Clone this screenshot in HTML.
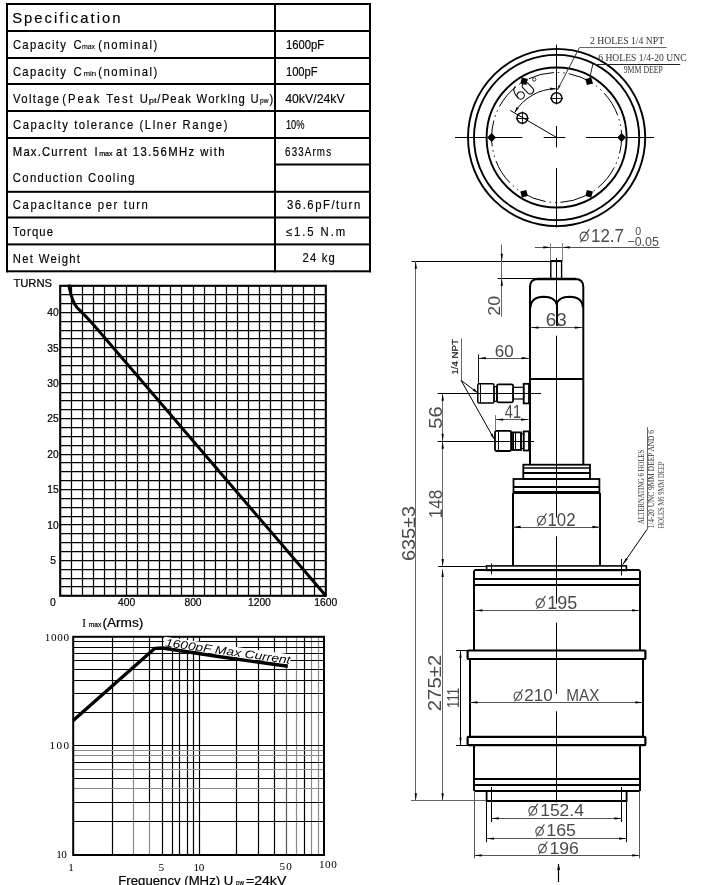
<!DOCTYPE html>
<html><head><meta charset="utf-8"><style>
html,body{margin:0;padding:0;background:#fff;}
svg{display:block;filter:grayscale(1);}
</style></head><body>
<svg width="714" height="885" viewBox="0 0 714 885">
<rect width="714" height="885" fill="#fff"/>
<rect x="6.00" y="3.00" width="365.00" height="2.00" fill="#000"/>
<rect x="6.00" y="30.00" width="365.00" height="2.00" fill="#000"/>
<rect x="6.00" y="57.00" width="365.00" height="2.00" fill="#000"/>
<rect x="6.00" y="83.00" width="365.00" height="2.00" fill="#000"/>
<rect x="6.00" y="110.00" width="365.00" height="2.00" fill="#000"/>
<rect x="6.00" y="137.00" width="365.00" height="2.00" fill="#000"/>
<rect x="274.00" y="163.50" width="97.00" height="2.00" fill="#000"/>
<rect x="6.00" y="190.80" width="365.00" height="2.00" fill="#000"/>
<rect x="6.00" y="216.50" width="365.00" height="2.00" fill="#000"/>
<rect x="6.00" y="243.40" width="365.00" height="2.00" fill="#000"/>
<rect x="6.00" y="270.30" width="365.00" height="2.00" fill="#000"/>
<rect x="6.00" y="3.00" width="2.00" height="269.30" fill="#000"/>
<rect x="274.00" y="3.00" width="2.00" height="269.30" fill="#000"/>
<rect x="369.00" y="3.00" width="2.00" height="269.30" fill="#000"/>
<text transform="translate(12.20,23.20) scale(1.0,1)" x="0" y="0" font-size="14.8" font-family="Liberation Sans, sans-serif" fill="#000" textLength="108.30" lengthAdjust="spacing" stroke="#000" stroke-width="0.15">Specification</text>
<text transform="translate(12.90,48.90) scale(0.95,1)" x="0" y="0" font-size="11.9" font-family="Liberation Sans, sans-serif" fill="#000" textLength="55.68" lengthAdjust="spacing" stroke="#000" stroke-width="0.15">Capacity</text>
<text transform="translate(73.60,48.90) scale(0.95,1)" x="0" y="0" font-size="11.9" font-family="Liberation Sans, sans-serif" fill="#000" textLength="7.58" lengthAdjust="spacing" stroke="#000" stroke-width="0.15">C</text>
<text x="81.90" y="48.90" font-size="7" font-family="Liberation Sans, sans-serif" text-anchor="start" fill="#000" textLength="13.20" lengthAdjust="spacingAndGlyphs" stroke="#000" stroke-width="0.1" >max</text>
<text transform="translate(98.30,48.90) scale(0.95,1)" x="0" y="0" font-size="11.9" font-family="Liberation Sans, sans-serif" fill="#000" textLength="62.11" lengthAdjust="spacing" stroke="#000" stroke-width="0.15">(nominal)</text>
<text transform="translate(12.90,75.80) scale(0.95,1)" x="0" y="0" font-size="11.9" font-family="Liberation Sans, sans-serif" fill="#000" textLength="55.68" lengthAdjust="spacing" stroke="#000" stroke-width="0.15">Capacity</text>
<text transform="translate(73.60,75.80) scale(0.95,1)" x="0" y="0" font-size="11.9" font-family="Liberation Sans, sans-serif" fill="#000" textLength="7.58" lengthAdjust="spacing" stroke="#000" stroke-width="0.15">C</text>
<text x="83.40" y="75.80" font-size="7" font-family="Liberation Sans, sans-serif" text-anchor="start" fill="#000" textLength="12.80" lengthAdjust="spacingAndGlyphs" stroke="#000" stroke-width="0.1" >min</text>
<text transform="translate(98.30,75.80) scale(0.95,1)" x="0" y="0" font-size="11.9" font-family="Liberation Sans, sans-serif" fill="#000" textLength="62.11" lengthAdjust="spacing" stroke="#000" stroke-width="0.15">(nominal)</text>
<text transform="translate(12.90,102.60) scale(0.95,1)" x="0" y="0" font-size="11.9" font-family="Liberation Sans, sans-serif" fill="#000" textLength="48.53" lengthAdjust="spacing" stroke="#000" stroke-width="0.15">Voltage</text>
<text transform="translate(62.30,102.60) scale(0.95,1)" x="0" y="0" font-size="11.9" font-family="Liberation Sans, sans-serif" fill="#000" textLength="90.00" lengthAdjust="spacing" stroke="#000" stroke-width="0.15">(Peak Test U</text>
<text x="148.80" y="102.60" font-size="7" font-family="Liberation Sans, sans-serif" text-anchor="start" fill="#000" textLength="7.90" lengthAdjust="spacingAndGlyphs" stroke="#000" stroke-width="0.15" >pt</text>
<text transform="translate(157.30,102.60) scale(0.95,1)" x="0" y="0" font-size="11.9" font-family="Liberation Sans, sans-serif" fill="#000" textLength="106.63" lengthAdjust="spacing" stroke="#000" stroke-width="0.15">/Peak Worklng U</text>
<text x="260.00" y="102.60" font-size="7" font-family="Liberation Sans, sans-serif" text-anchor="start" fill="#000" textLength="8.40" lengthAdjust="spacingAndGlyphs" stroke="#000" stroke-width="0.15" >pw</text>
<text transform="translate(269.40,102.60) scale(0.95,1)" x="0" y="0" font-size="11.9" font-family="Liberation Sans, sans-serif" fill="#000" textLength="3.79" lengthAdjust="spacing" stroke="#000" stroke-width="0.15">)</text>
<text transform="translate(12.90,129.30) scale(0.95,1)" x="0" y="0" font-size="11.9" font-family="Liberation Sans, sans-serif" fill="#000" textLength="225.89" lengthAdjust="spacing" stroke="#000" stroke-width="0.15">Capaclty tolerance (Llner Range)</text>
<text transform="translate(12.80,155.80) scale(0.95,1)" x="0" y="0" font-size="11.9" font-family="Liberation Sans, sans-serif" fill="#000" textLength="77.79" lengthAdjust="spacing" stroke="#000" stroke-width="0.2">Max.Current</text>
<text transform="translate(94.60,155.80) scale(0.95,1)" x="0" y="0" font-size="11.9" font-family="Liberation Sans, sans-serif" fill="#000" stroke="#000" stroke-width="0.2">I</text>
<text x="99.20" y="155.80" font-size="7" font-family="Liberation Sans, sans-serif" text-anchor="start" fill="#000" textLength="13.40" lengthAdjust="spacingAndGlyphs" stroke="#000" stroke-width="0.2" >max</text>
<text transform="translate(116.00,155.80) scale(0.95,1)" x="0" y="0" font-size="11.9" font-family="Liberation Sans, sans-serif" fill="#000" textLength="114.21" lengthAdjust="spacing" stroke="#000" stroke-width="0.2">at 13.56MHz with</text>
<text transform="translate(12.80,182.00) scale(0.95,1)" x="0" y="0" font-size="11.9" font-family="Liberation Sans, sans-serif" fill="#000" textLength="128.11" lengthAdjust="spacing" stroke="#000" stroke-width="0.15">Conduction Cooling</text>
<text transform="translate(12.80,209.00) scale(0.95,1)" x="0" y="0" font-size="11.9" font-family="Liberation Sans, sans-serif" fill="#000" textLength="142.21" lengthAdjust="spacing" stroke="#000" stroke-width="0.15">Capacltance per turn</text>
<text transform="translate(12.80,235.80) scale(0.95,1)" x="0" y="0" font-size="11.9" font-family="Liberation Sans, sans-serif" fill="#000" textLength="42.42" lengthAdjust="spacing" stroke="#000" stroke-width="0.15">Torque</text>
<text transform="translate(12.80,262.70) scale(0.95,1)" x="0" y="0" font-size="11.9" font-family="Liberation Sans, sans-serif" fill="#000" textLength="70.74" lengthAdjust="spacing" stroke="#000" stroke-width="0.15">Net Weight</text>
<text x="285.90" y="48.90" font-size="11.9" font-family="Liberation Sans, sans-serif" text-anchor="start" fill="#000" textLength="38.20" lengthAdjust="spacingAndGlyphs" stroke="#000" stroke-width="0.15" >1600pF</text>
<text x="285.90" y="75.90" font-size="11.9" font-family="Liberation Sans, sans-serif" text-anchor="start" fill="#000" textLength="31.80" lengthAdjust="spacingAndGlyphs" stroke="#000" stroke-width="0.15" >100pF</text>
<text x="285.20" y="102.80" font-size="11.9" font-family="Liberation Sans, sans-serif" text-anchor="start" fill="#000" textLength="59.50" lengthAdjust="spacingAndGlyphs" stroke="#000" stroke-width="0.15" >40kV/24kV</text>
<text x="285.90" y="129.40" font-size="11.9" font-family="Liberation Sans, sans-serif" text-anchor="start" fill="#000" textLength="18.60" lengthAdjust="spacingAndGlyphs" stroke="#000" stroke-width="0.15" >10%</text>
<text transform="translate(285.10,155.90) scale(0.82,1)" x="0" y="0" font-size="11.9" font-family="Liberation Sans, sans-serif" fill="#000" textLength="55.98" lengthAdjust="spacing" stroke="#000" stroke-width="0.15">633Arms</text>
<text transform="translate(287.00,209.40) scale(0.95,1)" x="0" y="0" font-size="11.9" font-family="Liberation Sans, sans-serif" fill="#000" textLength="77.05" lengthAdjust="spacing" stroke="#000" stroke-width="0.15">36.6pF/turn</text>
<text transform="translate(285.90,236.30) scale(0.95,1)" x="0" y="0" font-size="11.9" font-family="Liberation Sans, sans-serif" fill="#000" textLength="62.42" lengthAdjust="spacing" stroke="#000" stroke-width="0.15">&#8804;1.5 N.m</text>
<text transform="translate(302.50,262.40) scale(0.95,1)" x="0" y="0" font-size="11.9" font-family="Liberation Sans, sans-serif" fill="#000" textLength="34.11" lengthAdjust="spacing" stroke="#000" stroke-width="0.15">24 kg</text>
<line x1="71.50" y1="285.80" x2="71.50" y2="595.80" stroke="#000" stroke-width="1.25" />
<line x1="82.50" y1="285.80" x2="82.50" y2="595.80" stroke="#000" stroke-width="1.25" />
<line x1="93.50" y1="285.80" x2="93.50" y2="595.80" stroke="#000" stroke-width="1.25" />
<line x1="104.50" y1="285.80" x2="104.50" y2="595.80" stroke="#000" stroke-width="1.25" />
<line x1="115.50" y1="285.80" x2="115.50" y2="595.80" stroke="#000" stroke-width="1.25" />
<line x1="126.50" y1="285.80" x2="126.50" y2="595.80" stroke="#000" stroke-width="1.25" />
<line x1="137.50" y1="285.80" x2="137.50" y2="595.80" stroke="#000" stroke-width="1.25" />
<line x1="148.50" y1="285.80" x2="148.50" y2="595.80" stroke="#000" stroke-width="1.25" />
<line x1="159.50" y1="285.80" x2="159.50" y2="595.80" stroke="#000" stroke-width="1.25" />
<line x1="170.50" y1="285.80" x2="170.50" y2="595.80" stroke="#000" stroke-width="1.25" />
<line x1="181.50" y1="285.80" x2="181.50" y2="595.80" stroke="#000" stroke-width="1.25" />
<line x1="193.50" y1="285.80" x2="193.50" y2="595.80" stroke="#000" stroke-width="1.25" />
<line x1="204.50" y1="285.80" x2="204.50" y2="595.80" stroke="#000" stroke-width="1.25" />
<line x1="215.50" y1="285.80" x2="215.50" y2="595.80" stroke="#000" stroke-width="1.25" />
<line x1="226.50" y1="285.80" x2="226.50" y2="595.80" stroke="#000" stroke-width="1.25" />
<line x1="237.50" y1="285.80" x2="237.50" y2="595.80" stroke="#000" stroke-width="1.25" />
<line x1="248.50" y1="285.80" x2="248.50" y2="595.80" stroke="#000" stroke-width="1.25" />
<line x1="259.50" y1="285.80" x2="259.50" y2="595.80" stroke="#000" stroke-width="1.25" />
<line x1="270.50" y1="285.80" x2="270.50" y2="595.80" stroke="#000" stroke-width="1.25" />
<line x1="281.50" y1="285.80" x2="281.50" y2="595.80" stroke="#000" stroke-width="1.25" />
<line x1="292.50" y1="285.80" x2="292.50" y2="595.80" stroke="#000" stroke-width="1.25" />
<line x1="303.50" y1="285.80" x2="303.50" y2="595.80" stroke="#000" stroke-width="1.25" />
<line x1="314.50" y1="285.80" x2="314.50" y2="595.80" stroke="#000" stroke-width="1.25" />
<line x1="60.20" y1="294.50" x2="325.81" y2="294.50" stroke="#000" stroke-width="1.25" />
<line x1="60.20" y1="303.50" x2="325.81" y2="303.50" stroke="#000" stroke-width="1.25" />
<line x1="60.20" y1="312.50" x2="325.81" y2="312.50" stroke="#000" stroke-width="1.25" />
<line x1="60.20" y1="321.50" x2="325.81" y2="321.50" stroke="#000" stroke-width="1.25" />
<line x1="60.20" y1="330.50" x2="325.81" y2="330.50" stroke="#000" stroke-width="1.25" />
<line x1="60.20" y1="338.50" x2="325.81" y2="338.50" stroke="#000" stroke-width="1.25" />
<line x1="60.20" y1="347.50" x2="325.81" y2="347.50" stroke="#000" stroke-width="1.25" />
<line x1="60.20" y1="356.50" x2="325.81" y2="356.50" stroke="#000" stroke-width="1.25" />
<line x1="60.20" y1="365.50" x2="325.81" y2="365.50" stroke="#000" stroke-width="1.25" />
<line x1="60.20" y1="374.50" x2="325.81" y2="374.50" stroke="#000" stroke-width="1.25" />
<line x1="60.20" y1="383.50" x2="325.81" y2="383.50" stroke="#000" stroke-width="1.25" />
<line x1="60.20" y1="392.50" x2="325.81" y2="392.50" stroke="#000" stroke-width="1.25" />
<line x1="60.20" y1="400.50" x2="325.81" y2="400.50" stroke="#000" stroke-width="1.25" />
<line x1="60.20" y1="409.50" x2="325.81" y2="409.50" stroke="#000" stroke-width="1.25" />
<line x1="60.20" y1="418.50" x2="325.81" y2="418.50" stroke="#000" stroke-width="1.25" />
<line x1="60.20" y1="427.50" x2="325.81" y2="427.50" stroke="#000" stroke-width="1.25" />
<line x1="60.20" y1="436.50" x2="325.81" y2="436.50" stroke="#000" stroke-width="1.25" />
<line x1="60.20" y1="445.50" x2="325.81" y2="445.50" stroke="#000" stroke-width="1.25" />
<line x1="60.20" y1="454.50" x2="325.81" y2="454.50" stroke="#000" stroke-width="1.25" />
<line x1="60.20" y1="462.50" x2="325.81" y2="462.50" stroke="#000" stroke-width="1.25" />
<line x1="60.20" y1="471.50" x2="325.81" y2="471.50" stroke="#000" stroke-width="1.25" />
<line x1="60.20" y1="480.50" x2="325.81" y2="480.50" stroke="#000" stroke-width="1.25" />
<line x1="60.20" y1="489.50" x2="325.81" y2="489.50" stroke="#000" stroke-width="1.25" />
<line x1="60.20" y1="498.50" x2="325.81" y2="498.50" stroke="#000" stroke-width="1.25" />
<line x1="60.20" y1="507.50" x2="325.81" y2="507.50" stroke="#000" stroke-width="1.25" />
<line x1="60.20" y1="516.50" x2="325.81" y2="516.50" stroke="#000" stroke-width="1.25" />
<line x1="60.20" y1="524.50" x2="325.81" y2="524.50" stroke="#000" stroke-width="1.25" />
<line x1="60.20" y1="533.50" x2="325.81" y2="533.50" stroke="#000" stroke-width="1.25" />
<line x1="60.20" y1="542.50" x2="325.81" y2="542.50" stroke="#000" stroke-width="1.25" />
<line x1="60.20" y1="551.50" x2="325.81" y2="551.50" stroke="#000" stroke-width="1.25" />
<line x1="60.20" y1="560.50" x2="325.81" y2="560.50" stroke="#000" stroke-width="1.25" />
<line x1="60.20" y1="569.50" x2="325.81" y2="569.50" stroke="#000" stroke-width="1.25" />
<line x1="60.20" y1="578.50" x2="325.81" y2="578.50" stroke="#000" stroke-width="1.25" />
<line x1="60.20" y1="586.50" x2="325.81" y2="586.50" stroke="#000" stroke-width="1.25" />
<rect x="60.20" y="285.80" width="265.61" height="310.00" rx="0" fill="none" stroke="#000" stroke-width="2.1"/>
<path d="M68.7,284.6 C70.5,293 71.5,301 77,307.5 C80,310.5 84,314 94.2,325.5 L325.81,595.80" stroke="#000" stroke-width="3.0" fill="none" />
<text x="13.40" y="286.60" font-size="10.7" font-family="Liberation Sans, sans-serif" text-anchor="start" fill="#000" textLength="38.70" lengthAdjust="spacingAndGlyphs" stroke="#000" stroke-width="0.2" >TURNS</text>
<text x="53.00" y="564.07" font-size="10.3" font-family="Liberation Sans, sans-serif" text-anchor="middle" fill="#000" stroke="#000" stroke-width="0.2" >5</text>
<text x="53.00" y="528.64" font-size="10.3" font-family="Liberation Sans, sans-serif" text-anchor="middle" fill="#000" stroke="#000" stroke-width="0.2" >10</text>
<text x="53.00" y="493.21" font-size="10.3" font-family="Liberation Sans, sans-serif" text-anchor="middle" fill="#000" stroke="#000" stroke-width="0.2" >15</text>
<text x="53.00" y="457.78" font-size="10.3" font-family="Liberation Sans, sans-serif" text-anchor="middle" fill="#000" stroke="#000" stroke-width="0.2" >20</text>
<text x="53.00" y="422.36" font-size="10.3" font-family="Liberation Sans, sans-serif" text-anchor="middle" fill="#000" stroke="#000" stroke-width="0.2" >25</text>
<text x="53.00" y="386.93" font-size="10.3" font-family="Liberation Sans, sans-serif" text-anchor="middle" fill="#000" stroke="#000" stroke-width="0.2" >30</text>
<text x="53.00" y="351.50" font-size="10.3" font-family="Liberation Sans, sans-serif" text-anchor="middle" fill="#000" stroke="#000" stroke-width="0.2" >35</text>
<text x="53.00" y="316.07" font-size="10.3" font-family="Liberation Sans, sans-serif" text-anchor="middle" fill="#000" stroke="#000" stroke-width="0.2" >40</text>
<text x="52.90" y="605.50" font-size="10.3" font-family="Liberation Sans, sans-serif" text-anchor="middle" fill="#000" stroke="#000" stroke-width="0.2" >0</text>
<text x="126.60" y="606.00" font-size="10.3" font-family="Liberation Sans, sans-serif" text-anchor="middle" fill="#000" stroke="#000" stroke-width="0.2" >400</text>
<text x="193.00" y="606.00" font-size="10.3" font-family="Liberation Sans, sans-serif" text-anchor="middle" fill="#000" stroke="#000" stroke-width="0.2" >800</text>
<text x="259.41" y="606.00" font-size="10.3" font-family="Liberation Sans, sans-serif" text-anchor="middle" fill="#000" stroke="#000" stroke-width="0.2" >1200</text>
<text x="325.81" y="606.00" font-size="10.3" font-family="Liberation Sans, sans-serif" text-anchor="middle" fill="#000" stroke="#000" stroke-width="0.2" >1600</text>
<line x1="112.50" y1="636.80" x2="112.50" y2="855.00" stroke="#000" stroke-width="1.2" />
<line x1="133.50" y1="636.80" x2="133.50" y2="855.00" stroke="#8a8a8a" stroke-width="1.2" />
<line x1="149.50" y1="636.80" x2="149.50" y2="802.18" stroke="#000" stroke-width="1.2" />
<line x1="149.50" y1="802.18" x2="149.50" y2="855.00" stroke="#8a8a8a" stroke-width="1.2" />
<line x1="162.50" y1="636.80" x2="162.50" y2="855.00" stroke="#000" stroke-width="1.2" />
<line x1="172.50" y1="636.80" x2="172.50" y2="855.00" stroke="#000" stroke-width="1.2" />
<line x1="179.50" y1="636.80" x2="179.50" y2="855.00" stroke="#000" stroke-width="1.2" />
<line x1="187.50" y1="636.80" x2="187.50" y2="855.00" stroke="#000" stroke-width="1.2" />
<line x1="193.50" y1="636.80" x2="193.50" y2="855.00" stroke="#000" stroke-width="1.2" />
<line x1="199.50" y1="636.80" x2="199.50" y2="855.00" stroke="#000" stroke-width="1.2" />
<line x1="236.50" y1="636.80" x2="236.50" y2="855.00" stroke="#000" stroke-width="1.2" />
<line x1="258.50" y1="636.80" x2="258.50" y2="855.00" stroke="#000" stroke-width="1.2" />
<line x1="274.50" y1="636.80" x2="274.50" y2="855.00" stroke="#000" stroke-width="1.2" />
<line x1="286.50" y1="636.80" x2="286.50" y2="855.00" stroke="#555" stroke-width="1.2" />
<line x1="296.50" y1="636.80" x2="296.50" y2="855.00" stroke="#8a8a8a" stroke-width="1.2" />
<line x1="304.50" y1="636.80" x2="304.50" y2="855.00" stroke="#000" stroke-width="1.2" />
<line x1="311.50" y1="636.80" x2="311.50" y2="855.00" stroke="#8a8a8a" stroke-width="1.2" />
<line x1="318.50" y1="636.80" x2="318.50" y2="855.00" stroke="#8a8a8a" stroke-width="1.2" />
<line x1="73.20" y1="821.50" x2="324.00" y2="821.50" stroke="#000" stroke-width="1.2" />
<line x1="73.20" y1="802.50" x2="324.00" y2="802.50" stroke="#000" stroke-width="1.2" />
<line x1="73.20" y1="788.50" x2="324.00" y2="788.50" stroke="#8a8a8a" stroke-width="1.2" />
<line x1="73.20" y1="778.50" x2="324.00" y2="778.50" stroke="#000" stroke-width="1.2" />
<line x1="73.20" y1="769.50" x2="324.00" y2="769.50" stroke="#8a8a8a" stroke-width="1.2" />
<line x1="73.20" y1="762.50" x2="324.00" y2="762.50" stroke="#000" stroke-width="1.2" />
<line x1="73.20" y1="755.50" x2="324.00" y2="755.50" stroke="#8a8a8a" stroke-width="1.2" />
<line x1="73.20" y1="750.50" x2="324.00" y2="750.50" stroke="#8a8a8a" stroke-width="1.2" />
<line x1="73.20" y1="745.50" x2="324.00" y2="745.50" stroke="#000" stroke-width="1.2" />
<line x1="73.20" y1="712.50" x2="324.00" y2="712.50" stroke="#000" stroke-width="1.2" />
<line x1="73.20" y1="693.50" x2="324.00" y2="693.50" stroke="#000" stroke-width="1.2" />
<line x1="73.20" y1="680.50" x2="324.00" y2="680.50" stroke="#000" stroke-width="1.2" />
<line x1="73.20" y1="669.50" x2="324.00" y2="669.50" stroke="#000" stroke-width="1.2" />
<line x1="73.20" y1="660.50" x2="324.00" y2="660.50" stroke="#000" stroke-width="1.2" />
<line x1="73.20" y1="653.50" x2="324.00" y2="653.50" stroke="#000" stroke-width="1.2" />
<line x1="73.20" y1="647.50" x2="324.00" y2="647.50" stroke="#000" stroke-width="1.2" />
<line x1="73.20" y1="641.50" x2="324.00" y2="641.50" stroke="#000" stroke-width="1.2" />
<rect x="73.20" y="636.80" width="250.80" height="218.20" rx="0" fill="none" stroke="#000" stroke-width="2.0"/>
<g transform="translate(163,647.2) rotate(8)">
<rect x="0" y="-10.5" width="128" height="10" fill="#fff"/>
<text x="1.5" y="-1.2" font-size="11.2" font-family="Liberation Sans, sans-serif" font-style="italic" textLength="126.5" lengthAdjust="spacingAndGlyphs">1600pF Max Current</text>
</g>
<path d="M73.2,720.4 L154.6,648.4 L162.4,648 L220,656.8 L287.8,666.3" stroke="#000" stroke-width="3.4" fill="none" stroke-linejoin="round"/>
<text x="82" y="626.8" font-size="12.5" font-family="Liberation Serif, serif">I</text>
<text x="88.80" y="626.50" font-size="7.5" font-family="Liberation Sans, sans-serif" text-anchor="start" fill="#000" textLength="12.60" lengthAdjust="spacingAndGlyphs" stroke="#000" stroke-width="0.2" >max</text>
<text x="102.40" y="626.80" font-size="12" font-family="Liberation Sans, sans-serif" text-anchor="start" fill="#000" textLength="41.00" lengthAdjust="spacingAndGlyphs" stroke="#000" stroke-width="0.2" >(Arms)</text>
<text x="44.70" y="640.70" font-size="11.2" font-family="Liberation Serif, serif" text-anchor="start" fill="#000" textLength="24.50" lengthAdjust="spacing" >1000</text>
<text x="49.50" y="749.30" font-size="11.2" font-family="Liberation Serif, serif" text-anchor="start" fill="#000" textLength="19.70" lengthAdjust="spacing" >100</text>
<text x="56.30" y="857.90" font-size="11.2" font-family="Liberation Serif, serif" text-anchor="start" fill="#000" textLength="10.50" lengthAdjust="spacing" >10</text>
<text x="68.20" y="871.30" font-size="11.2" font-family="Liberation Serif, serif" text-anchor="start" fill="#000" textLength="3.50" lengthAdjust="spacing" >1</text>
<text x="158.50" y="871.30" font-size="11.2" font-family="Liberation Serif, serif" text-anchor="start" fill="#000" textLength="4.20" lengthAdjust="spacing" >5</text>
<text x="193.60" y="870.50" font-size="11.2" font-family="Liberation Serif, serif" text-anchor="start" fill="#000" textLength="10.70" lengthAdjust="spacing" >10</text>
<text x="279.40" y="869.50" font-size="11.2" font-family="Liberation Serif, serif" text-anchor="start" fill="#000" textLength="12.40" lengthAdjust="spacing" >50</text>
<text x="318.90" y="867.80" font-size="11.2" font-family="Liberation Serif, serif" text-anchor="start" fill="#000" textLength="17.90" lengthAdjust="spacing" >100</text>
<text x="118.30" y="884.60" font-size="12.3" font-family="Liberation Sans, sans-serif" text-anchor="start" fill="#000" textLength="115.00" lengthAdjust="spacingAndGlyphs" stroke="#000" stroke-width="0.2" >Frequency (MHz) U</text>
<text x="236.00" y="884.60" font-size="7" font-family="Liberation Sans, sans-serif" text-anchor="start" fill="#000" textLength="8.00" lengthAdjust="spacingAndGlyphs" stroke="#000" stroke-width="0.2" >pw</text>
<text x="246.00" y="884.60" font-size="12.3" font-family="Liberation Sans, sans-serif" text-anchor="start" fill="#000" textLength="40.30" lengthAdjust="spacingAndGlyphs" stroke="#000" stroke-width="0.2" >=24kV</text>
<circle cx="556.6" cy="137.5" r="88.6" fill="none" stroke="#000" stroke-width="1.9" />
<circle cx="556.6" cy="137.5" r="82.6" fill="none" stroke="#000" stroke-width="1.9" />
<circle cx="556.6" cy="137.5" r="70.0" fill="none" stroke="#000" stroke-width="1.9" />
<circle cx="556.6" cy="137.5" r="65.0" fill="none" stroke="#000" stroke-width="1" stroke-dasharray="26 4 1.5 4 1.5 4" stroke-dashoffset="10"/>
<rect x="618.50" y="134.40" width="6.2" height="6.2" fill="#000" transform="rotate(45 621.60 137.50)"/>
<rect x="586.00" y="78.11" width="6.2" height="6.2" fill="#000" transform="rotate(-15 589.10 81.21)"/>
<rect x="521.00" y="78.11" width="6.2" height="6.2" fill="#000" transform="rotate(-75 524.10 81.21)"/>
<rect x="488.50" y="134.40" width="6.2" height="6.2" fill="#000" transform="rotate(-135 491.60 137.50)"/>
<rect x="521.00" y="190.69" width="6.2" height="6.2" fill="#000" transform="rotate(-195 524.10 193.79)"/>
<rect x="586.00" y="190.69" width="6.2" height="6.2" fill="#000" transform="rotate(-255 589.10 193.79)"/>
<line x1="455.00" y1="137.50" x2="522.40" y2="137.50" stroke="#000" stroke-width="1" />
<line x1="543.70" y1="137.50" x2="565.30" y2="137.50" stroke="#000" stroke-width="1" />
<line x1="586.00" y1="137.50" x2="654.00" y2="137.50" stroke="#000" stroke-width="1" />
<line x1="556.50" y1="44.70" x2="556.50" y2="104.00" stroke="#000" stroke-width="1" />
<line x1="556.50" y1="126.00" x2="556.50" y2="147.50" stroke="#000" stroke-width="1" />
<line x1="556.50" y1="168.00" x2="556.50" y2="227.50" stroke="#000" stroke-width="1" />
<circle cx="556.6" cy="98.0" r="5.3" fill="none" stroke="#000" stroke-width="1.5"/>
<line x1="550.10" y1="98.50" x2="563.10" y2="98.50" stroke="#000" stroke-width="0.9" />
<line x1="556.50" y1="91.50" x2="556.50" y2="104.50" stroke="#000" stroke-width="0.9" />
<circle cx="522.3" cy="118.0" r="5.3" fill="none" stroke="#000" stroke-width="1.5"/>
<line x1="515.80" y1="118.50" x2="528.80" y2="118.50" stroke="#000" stroke-width="0.9" />
<line x1="522.50" y1="111.50" x2="522.50" y2="124.50" stroke="#000" stroke-width="0.9" />
<line x1="556.60" y1="137.50" x2="510.20" y2="110.40" stroke="#000" stroke-width="1" />
<path d="M555.75,88.71 A48.8,48.8 0 0 0 514.77,112.37" stroke="#000" stroke-width="1" fill="none" />
<path d="M555.75,88.71 L550.28,90.12 L550.22,87.52 Z" fill="#000"/>
<path d="M514.77,112.37 L516.49,106.98 L518.72,108.32 Z" fill="#000"/>
<g transform="translate(527.95,88.2) rotate(-43.5)" fill="none" stroke="#111" stroke-width="1.1">
<rect x="-3.4" y="-6.6" width="6.8" height="13.2" rx="3.4"/>
<ellipse cx="-10.2" cy="0.3" rx="3.6" ry="3.7"/>
<path d="M-13.8,0.3 C-13.8,-6 -12,-9.8 -8,-10.2"/>
</g>
<circle cx="534.2" cy="79.5" r="1.7" fill="none" stroke="#222" stroke-width="0.9"/>
<line x1="557.40" y1="90.00" x2="579.30" y2="47.80" stroke="#333" stroke-width="1" />
<path d="M557.40,90.00 L558.63,85.01 L560.76,86.11 Z" fill="#222"/>
<line x1="579.30" y1="47.50" x2="666.50" y2="47.50" stroke="#666" stroke-width="1.1" />
<line x1="589.50" y1="79.00" x2="592.80" y2="64.20" stroke="#222" stroke-width="1" />
<line x1="592.80" y1="64.50" x2="680.20" y2="64.50" stroke="#222" stroke-width="1.1" />
<text x="590.00" y="43.60" font-size="10.3" font-family="Liberation Serif, serif" text-anchor="start" fill="#333" textLength="74.20" lengthAdjust="spacingAndGlyphs" >2 HOLES 1/4 NPT</text>
<text x="598.20" y="60.50" font-size="10.3" font-family="Liberation Serif, serif" text-anchor="start" fill="#333" textLength="88.40" lengthAdjust="spacingAndGlyphs" >6 HOLES 1/4-20 UNC</text>
<text x="623.70" y="73.30" font-size="10.3" font-family="Liberation Serif, serif" text-anchor="start" fill="#333" textLength="39.20" lengthAdjust="spacingAndGlyphs" >9MM DEEP</text>
<ellipse cx="584.16" cy="236.53" rx="4.03" ry="4.41" fill="none" stroke="#4a4a4a" stroke-width="1.15"/>
<line x1="580.50" y1="242.08" x2="589.32" y2="229.10" stroke="#4a4a4a" stroke-width="1.15"/>
<text x="591.00" y="241.70" font-size="17.75" font-family="Liberation Sans, sans-serif" fill="#4a4a4a" textLength="32.90" lengthAdjust="spacingAndGlyphs">12.7</text>
<text x="635.2" y="234.7" font-size="10.6" font-family="Liberation Sans, sans-serif" fill="#4a4a4a">0</text>
<text x="627.40" y="245.90" font-size="12.82" font-family="Liberation Sans, sans-serif" fill="#4a4a4a" textLength="31.40" lengthAdjust="spacingAndGlyphs">&#8722;0.05</text>
<line x1="534.80" y1="247.50" x2="659.60" y2="247.50" stroke="#555" stroke-width="1" />
<path d="M550.80,247.30 L543.30,248.45 L543.30,246.15 Z" fill="#000"/>
<path d="M562.30,247.30 L569.80,246.15 L569.80,248.45 Z" fill="#000"/>
<line x1="550.50" y1="243.00" x2="550.50" y2="261.00" stroke="#777" stroke-width="0.9" />
<line x1="562.50" y1="243.00" x2="562.50" y2="261.00" stroke="#777" stroke-width="0.9" />
<rect x="550.80" y="261.40" width="10.80" height="17.60" rx="0" fill="none" stroke="#000" stroke-width="1.4"/>
<line x1="550.30" y1="261.00" x2="562.10" y2="261.00" stroke="#000" stroke-width="2" />
<path d="M530,464.7 L530,287 Q530,279 538,279 L575.3,279 Q583.3,279 583.3,287 L583.3,464.7" stroke="#000" stroke-width="2" fill="none" />
<line x1="537.00" y1="279.00" x2="576.00" y2="279.00" stroke="#000" stroke-width="2.6" />
<path d="M530.5,307.5 Q531,297 543.7,296.8 Q555,297 556.6,304.5 Q558.2,297 569.5,296.8 Q582.5,297 582.8,307.5" stroke="#000" stroke-width="2" fill="none" />
<line x1="557.00" y1="304.00" x2="557.00" y2="326.00" stroke="#000" stroke-width="2" />
<line x1="530.00" y1="379.00" x2="583.30" y2="379.00" stroke="#000" stroke-width="2" />
<line x1="531.00" y1="327.50" x2="582.30" y2="327.50" stroke="#555" stroke-width="1" />
<path d="M531.00,327.60 L538.50,326.45 L538.50,328.75 Z" fill="#000"/>
<path d="M582.30,327.60 L574.80,328.75 L574.80,326.45 Z" fill="#000"/>
<text x="545.80" y="325.90" font-size="17.75" font-family="Liberation Sans, sans-serif" fill="#4a4a4a" textLength="21.00" lengthAdjust="spacingAndGlyphs">63</text>
<line x1="556.50" y1="258.00" x2="556.50" y2="314.50" stroke="#000" stroke-width="1" />
<line x1="556.50" y1="335.70" x2="556.50" y2="464.00" stroke="#000" stroke-width="1" />
<line x1="556.50" y1="464.00" x2="556.50" y2="517.60" stroke="#000" stroke-width="1" />
<line x1="556.50" y1="536.30" x2="556.50" y2="603.70" stroke="#000" stroke-width="1" />
<line x1="556.50" y1="622.70" x2="556.50" y2="693.90" stroke="#000" stroke-width="1" />
<line x1="556.50" y1="711.30" x2="556.50" y2="802.40" stroke="#000" stroke-width="1" />
<line x1="411.70" y1="261.50" x2="550.60" y2="261.50" stroke="#000" stroke-width="1" />
<line x1="497.60" y1="278.50" x2="537.00" y2="278.50" stroke="#000" stroke-width="1" />
<line x1="501.50" y1="244.50" x2="501.50" y2="316.80" stroke="#666" stroke-width="1" />
<path d="M501.80,261.30 L500.65,253.80 L502.95,253.80 Z" fill="#000"/>
<path d="M501.80,278.20 L502.95,285.70 L500.65,285.70 Z" fill="#000"/>
<text x="0" y="0" font-size="16.62" font-family="Liberation Sans, sans-serif" fill="#4a4a4a" transform="translate(499.60,315.70) rotate(-90)" textLength="19.70" lengthAdjust="spacingAndGlyphs">20</text>
<line x1="478.50" y1="354.40" x2="478.50" y2="383.80" stroke="#111" stroke-width="1" />
<line x1="478.30" y1="358.50" x2="529.20" y2="358.50" stroke="#555" stroke-width="1" />
<path d="M478.30,358.20 L485.80,357.05 L485.80,359.35 Z" fill="#000"/>
<path d="M529.20,358.20 L521.70,359.35 L521.70,357.05 Z" fill="#000"/>
<text x="494.70" y="356.70" font-size="17.18" font-family="Liberation Sans, sans-serif" fill="#4a4a4a" textLength="18.90" lengthAdjust="spacingAndGlyphs">60</text>
<rect x="477.80" y="383.80" width="16.20" height="19.10" rx="1.5" fill="none" stroke="#000" stroke-width="1.5"/>
<line x1="480.50" y1="384.00" x2="480.50" y2="402.70" stroke="#000" stroke-width="1" />
<rect x="494.00" y="386.60" width="3.00" height="14.70" rx="0" fill="none" stroke="#000" stroke-width="1.2"/>
<rect x="497.00" y="384.30" width="16.10" height="18.00" rx="1.5" fill="none" stroke="#000" stroke-width="1.8"/>
<rect x="513.10" y="387.30" width="10.60" height="11.70" rx="0" fill="none" stroke="#000" stroke-width="1.2"/>
<rect x="523.70" y="383.80" width="5.30" height="19.60" rx="0" fill="none" stroke="#000" stroke-width="1.8"/>
<line x1="438.40" y1="393.50" x2="541.00" y2="393.50" stroke="#000" stroke-width="1" />
<rect x="495.00" y="430.90" width="16.20" height="20.10" rx="1.5" fill="none" stroke="#000" stroke-width="1.8"/>
<line x1="498.50" y1="431.00" x2="498.50" y2="450.80" stroke="#000" stroke-width="1" />
<rect x="511.20" y="432.50" width="1.90" height="17.30" rx="0" fill="none" stroke="#000" stroke-width="1.2"/>
<rect x="513.10" y="432.40" width="7.90" height="17.60" rx="0" fill="none" stroke="#000" stroke-width="1.8"/>
<line x1="515.50" y1="432.50" x2="515.50" y2="450.00" stroke="#000" stroke-width="1" />
<rect x="521.00" y="433.80" width="2.70" height="14.70" rx="0" fill="none" stroke="#000" stroke-width="1.2"/>
<rect x="523.70" y="431.40" width="5.30" height="19.10" rx="0" fill="none" stroke="#000" stroke-width="1.8"/>
<line x1="438.40" y1="441.50" x2="534.20" y2="441.50" stroke="#000" stroke-width="1" />
<line x1="495.50" y1="415.20" x2="495.50" y2="430.90" stroke="#666" stroke-width="0.9" />
<line x1="495.70" y1="419.50" x2="528.60" y2="419.50" stroke="#555" stroke-width="1" />
<path d="M495.70,419.60 L503.20,418.45 L503.20,420.75 Z" fill="#000"/>
<path d="M528.60,419.60 L521.10,420.75 L521.10,418.45 Z" fill="#000"/>
<text x="504.80" y="418.10" font-size="17.89" font-family="Liberation Sans, sans-serif" fill="#4a4a4a" textLength="16.20" lengthAdjust="spacingAndGlyphs">41</text>
<line x1="461.50" y1="338.40" x2="461.50" y2="380.40" stroke="#666" stroke-width="1" />
<line x1="461.10" y1="380.40" x2="477.40" y2="392.60" stroke="#000" stroke-width="1" />
<path d="M477.40,392.60 L472.62,390.64 L474.18,388.56 Z" fill="#000"/>
<line x1="461.10" y1="380.40" x2="494.00" y2="438.70" stroke="#000" stroke-width="1" />
<path d="M494.00,438.70 L490.41,434.98 L492.67,433.71 Z" fill="#000"/>
<text x="0" y="0" font-size="9.8" font-family="Liberation Sans, sans-serif" fill="#222" stroke="#222" stroke-width="0.2" transform="translate(457.7,374.5) rotate(-90)" textLength="35.3" lengthAdjust="spacingAndGlyphs">1/4 NPT</text>
<line x1="442.50" y1="393.30" x2="442.50" y2="566.50" stroke="#666" stroke-width="1" />
<path d="M442.70,393.30 L443.85,400.80 L441.55,400.80 Z" fill="#000"/>
<path d="M442.70,441.30 L441.55,433.80 L443.85,433.80 Z" fill="#000"/>
<path d="M442.70,441.30 L443.85,448.80 L441.55,448.80 Z" fill="#000"/>
<path d="M442.70,566.50 L441.55,559.00 L443.85,559.00 Z" fill="#000"/>
<line x1="437.60" y1="441.50" x2="494.00" y2="441.50" stroke="#000" stroke-width="1" />
<line x1="437.60" y1="393.50" x2="478.00" y2="393.50" stroke="#000" stroke-width="1" />
<text x="0" y="0" font-size="18.31" font-family="Liberation Sans, sans-serif" fill="#4a4a4a" transform="translate(441.70,428.70) rotate(-90)" textLength="22.40" lengthAdjust="spacingAndGlyphs">56</text>
<text x="0" y="0" font-size="18.31" font-family="Liberation Sans, sans-serif" fill="#4a4a4a" transform="translate(441.70,518.20) rotate(-90)" textLength="28.50" lengthAdjust="spacingAndGlyphs">148</text>
<rect x="523.30" y="464.70" width="66.70" height="14.30" rx="0" fill="none" stroke="#000" stroke-width="1.8"/>
<line x1="524.00" y1="468.00" x2="589.50" y2="468.00" stroke="#000" stroke-width="1.5" />
<line x1="524.00" y1="473.00" x2="589.50" y2="473.00" stroke="#000" stroke-width="1.8" />
<rect x="513.50" y="479.00" width="85.90" height="14.10" rx="0" fill="none" stroke="#000" stroke-width="1.8"/>
<line x1="513.50" y1="487.00" x2="599.40" y2="487.00" stroke="#000" stroke-width="2" />
<line x1="513.50" y1="492.00" x2="599.40" y2="492.00" stroke="#000" stroke-width="2" />
<line x1="513.00" y1="493.00" x2="513.00" y2="565.70" stroke="#000" stroke-width="2" />
<line x1="600.00" y1="493.00" x2="600.00" y2="565.70" stroke="#000" stroke-width="2" />
<line x1="513.10" y1="527.50" x2="599.80" y2="527.50" stroke="#555" stroke-width="1" />
<path d="M513.10,527.00 L520.60,525.85 L520.60,528.15 Z" fill="#000"/>
<path d="M599.80,527.00 L592.30,528.15 L592.30,525.85 Z" fill="#000"/>
<ellipse cx="541.42" cy="520.58" rx="4.00" ry="4.38" fill="none" stroke="#4a4a4a" stroke-width="1.15"/>
<line x1="537.80" y1="526.08" x2="546.55" y2="513.20" stroke="#4a4a4a" stroke-width="1.15"/>
<text x="547.50" y="525.70" font-size="17.61" font-family="Liberation Sans, sans-serif" fill="#4a4a4a" textLength="28.00" lengthAdjust="spacingAndGlyphs">102</text>
<rect x="486.60" y="565.90" width="139.80" height="4.50" rx="0" fill="none" stroke="#000" stroke-width="1.6"/>
<line x1="491.50" y1="563.50" x2="491.50" y2="574.30" stroke="#000" stroke-width="1" />
<line x1="621.50" y1="559.00" x2="621.50" y2="575.50" stroke="#000" stroke-width="1" />
<line x1="474.00" y1="570.40" x2="474.00" y2="650.50" stroke="#000" stroke-width="2" />
<line x1="640.00" y1="570.40" x2="640.00" y2="650.50" stroke="#000" stroke-width="2" />
<line x1="474.30" y1="570.00" x2="639.70" y2="570.00" stroke="#000" stroke-width="2" />
<line x1="474.30" y1="579.00" x2="639.70" y2="579.00" stroke="#000" stroke-width="2" />
<line x1="474.30" y1="585.00" x2="639.70" y2="585.00" stroke="#000" stroke-width="2" />
<rect x="467.60" y="650.50" width="177.80" height="8.50" rx="0.8" fill="none" stroke="#000" stroke-width="2.2"/>
<line x1="470.00" y1="659.00" x2="470.00" y2="736.80" stroke="#000" stroke-width="2" />
<line x1="643.00" y1="659.00" x2="643.00" y2="736.80" stroke="#000" stroke-width="2" />
<rect x="467.60" y="736.80" width="177.80" height="8.30" rx="0.8" fill="none" stroke="#000" stroke-width="2.2"/>
<line x1="474.00" y1="745.10" x2="474.00" y2="791.00" stroke="#000" stroke-width="2" />
<line x1="640.00" y1="745.10" x2="640.00" y2="791.00" stroke="#000" stroke-width="2" />
<line x1="474.30" y1="779.00" x2="639.70" y2="779.00" stroke="#000" stroke-width="2" />
<line x1="474.30" y1="785.00" x2="639.70" y2="785.00" stroke="#000" stroke-width="2" />
<line x1="474.30" y1="791.00" x2="639.70" y2="791.00" stroke="#000" stroke-width="2" />
<rect x="486.60" y="791.10" width="140.00" height="9.90" rx="0" fill="none" stroke="#000" stroke-width="1.8"/>
<line x1="486.60" y1="801.00" x2="626.60" y2="801.00" stroke="#000" stroke-width="2.2" />
<line x1="475.00" y1="610.50" x2="639.50" y2="610.50" stroke="#555" stroke-width="1" />
<path d="M475.00,610.40 L482.50,609.25 L482.50,611.55 Z" fill="#000"/>
<path d="M639.50,610.40 L632.00,611.55 L632.00,609.25 Z" fill="#000"/>
<ellipse cx="540.29" cy="603.29" rx="4.06" ry="4.44" fill="none" stroke="#4a4a4a" stroke-width="1.15"/>
<line x1="536.61" y1="608.88" x2="545.50" y2="595.80" stroke="#4a4a4a" stroke-width="1.15"/>
<text x="547.20" y="608.50" font-size="17.89" font-family="Liberation Sans, sans-serif" fill="#4a4a4a" textLength="30.00" lengthAdjust="spacingAndGlyphs">195</text>
<line x1="470.10" y1="702.50" x2="642.90" y2="702.50" stroke="#555" stroke-width="1" />
<path d="M470.10,702.40 L477.60,701.25 L477.60,703.55 Z" fill="#000"/>
<path d="M642.90,702.40 L635.40,703.55 L635.40,701.25 Z" fill="#000"/>
<ellipse cx="517.89" cy="696.16" rx="3.78" ry="4.13" fill="none" stroke="#4a4a4a" stroke-width="1.15"/>
<line x1="514.47" y1="701.35" x2="522.73" y2="689.20" stroke="#4a4a4a" stroke-width="1.15"/>
<text x="524.20" y="701.00" font-size="16.62" font-family="Liberation Sans, sans-serif" fill="#4a4a4a" textLength="28.50" lengthAdjust="spacingAndGlyphs">210</text>
<text x="566.20" y="701.00" font-size="16.62" font-family="Liberation Sans, sans-serif" fill="#4a4a4a" textLength="33.20" lengthAdjust="spacingAndGlyphs">MAX</text>
<line x1="456.10" y1="650.50" x2="467.60" y2="650.50" stroke="#000" stroke-width="1" />
<line x1="456.10" y1="745.50" x2="467.60" y2="745.50" stroke="#000" stroke-width="1" />
<line x1="460.50" y1="650.30" x2="460.50" y2="745.10" stroke="#000" stroke-width="1" />
<path d="M460.50,650.30 L461.65,657.80 L459.35,657.80 Z" fill="#000"/>
<path d="M460.50,745.10 L459.35,737.60 L461.65,737.60 Z" fill="#000"/>
<text x="0" y="0" font-size="17.18" font-family="Liberation Sans, sans-serif" fill="#4a4a4a" transform="translate(458.80,708.00) rotate(-90)" textLength="20.20" lengthAdjust="spacingAndGlyphs">111</text>
<line x1="442.50" y1="569.40" x2="442.50" y2="800.70" stroke="#666" stroke-width="1" />
<path d="M442.60,569.40 L443.75,576.90 L441.45,576.90 Z" fill="#000"/>
<path d="M442.60,800.70 L441.45,793.20 L443.75,793.20 Z" fill="#000"/>
<line x1="438.20" y1="566.50" x2="487.00" y2="566.50" stroke="#000" stroke-width="1" />
<text x="0" y="0" font-size="18.59" font-family="Liberation Sans, sans-serif" fill="#4a4a4a" transform="translate(440.50,711.20) rotate(-90)" textLength="56.40" lengthAdjust="spacingAndGlyphs">275&#177;2</text>
<line x1="415.50" y1="261.30" x2="415.50" y2="800.70" stroke="#666" stroke-width="1" />
<path d="M415.80,261.30 L416.95,268.80 L414.65,268.80 Z" fill="#000"/>
<path d="M415.80,800.70 L414.65,793.20 L416.95,793.20 Z" fill="#000"/>
<line x1="411.00" y1="800.50" x2="486.00" y2="800.50" stroke="#666" stroke-width="1" />
<text x="0" y="0" font-size="18.73" font-family="Liberation Sans, sans-serif" fill="#4a4a4a" transform="translate(415.30,561.00) rotate(-90)" textLength="55.00" lengthAdjust="spacingAndGlyphs">635&#177;3</text>
<line x1="491.50" y1="787.00" x2="491.50" y2="822.00" stroke="#000" stroke-width="1" />
<line x1="621.50" y1="787.00" x2="621.50" y2="822.00" stroke="#000" stroke-width="1" />
<line x1="491.40" y1="818.50" x2="621.90" y2="818.50" stroke="#555" stroke-width="1" />
<path d="M491.40,818.40 L498.90,817.25 L498.90,819.55 Z" fill="#000"/>
<path d="M621.90,818.40 L614.40,819.55 L614.40,817.25 Z" fill="#000"/>
<ellipse cx="532.76" cy="810.86" rx="3.94" ry="4.30" fill="none" stroke="#4a4a4a" stroke-width="1.15"/>
<line x1="529.19" y1="816.27" x2="537.80" y2="803.60" stroke="#4a4a4a" stroke-width="1.15"/>
<text x="540.20" y="815.90" font-size="17.32" font-family="Liberation Sans, sans-serif" fill="#4a4a4a" textLength="43.70" lengthAdjust="spacingAndGlyphs">152.4</text>
<line x1="486.50" y1="801.00" x2="486.50" y2="842.20" stroke="#000" stroke-width="1" />
<line x1="626.50" y1="801.00" x2="626.50" y2="842.20" stroke="#000" stroke-width="1" />
<line x1="486.60" y1="838.50" x2="626.60" y2="838.50" stroke="#555" stroke-width="1" />
<path d="M486.60,838.60 L494.10,837.45 L494.10,839.75 Z" fill="#000"/>
<path d="M626.60,838.60 L619.10,839.75 L619.10,837.45 Z" fill="#000"/>
<ellipse cx="539.59" cy="831.26" rx="3.78" ry="4.13" fill="none" stroke="#4a4a4a" stroke-width="1.15"/>
<line x1="536.17" y1="836.45" x2="544.43" y2="824.30" stroke="#4a4a4a" stroke-width="1.15"/>
<text x="546.30" y="836.10" font-size="16.62" font-family="Liberation Sans, sans-serif" fill="#4a4a4a" textLength="29.70" lengthAdjust="spacingAndGlyphs">165</text>
<line x1="474.50" y1="791.00" x2="474.50" y2="858.40" stroke="#555" stroke-width="1" />
<line x1="639.50" y1="791.00" x2="639.50" y2="858.40" stroke="#555" stroke-width="1" />
<line x1="474.30" y1="855.50" x2="639.70" y2="855.50" stroke="#555" stroke-width="1" />
<path d="M474.30,855.40 L481.80,854.25 L481.80,856.55 Z" fill="#000"/>
<path d="M639.70,855.40 L632.20,856.55 L632.20,854.25 Z" fill="#000"/>
<ellipse cx="542.46" cy="848.58" rx="3.84" ry="4.20" fill="none" stroke="#4a4a4a" stroke-width="1.15"/>
<line x1="538.98" y1="853.86" x2="547.38" y2="841.50" stroke="#4a4a4a" stroke-width="1.15"/>
<text x="549.40" y="853.50" font-size="16.90" font-family="Liberation Sans, sans-serif" fill="#4a4a4a" textLength="29.40" lengthAdjust="spacingAndGlyphs">196</text>
<line x1="558.50" y1="864.00" x2="558.50" y2="882.00" stroke="#000" stroke-width="1.2" />
<path d="M558.60,864.00 L560.10,870.00 L557.10,870.00 Z" fill="#000"/>
<line x1="647.50" y1="427.20" x2="647.50" y2="529.40" stroke="#666" stroke-width="1" />
<line x1="647.00" y1="529.40" x2="622.60" y2="564.70" stroke="#000" stroke-width="1" />
<path d="M622.60,564.70 L625.92,557.88 L627.81,559.18 Z" fill="#000"/>
<text x="0" y="0" font-size="8.4" font-family="Liberation Serif, serif" fill="#333" transform="translate(644.3,524) rotate(-90)" textLength="74.2" lengthAdjust="spacingAndGlyphs">ALTERNATING 6 HOLES</text>
<text x="0" y="0" font-size="8.4" font-family="Liberation Serif, serif" fill="#333" transform="translate(654.2,528.5) rotate(-90)" textLength="98.5" lengthAdjust="spacingAndGlyphs">1/4-20 UNC 9MM DEEP AND 6</text>
<text x="0" y="0" font-size="8.4" font-family="Liberation Serif, serif" fill="#333" transform="translate(664.2,528.5) rotate(-90)" textLength="66.9" lengthAdjust="spacingAndGlyphs">HOLES M6 9MM DEEP</text>
</svg>
</body></html>
